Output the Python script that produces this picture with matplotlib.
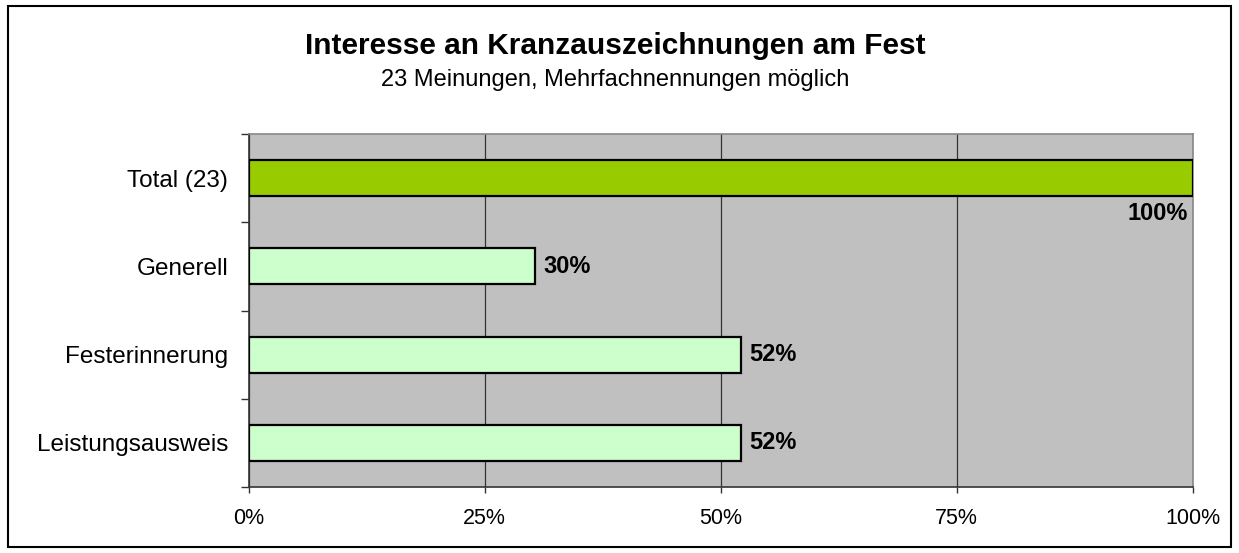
import matplotlib
matplotlib.use("Agg")
import matplotlib.pyplot as plt
from matplotlib.patches import Rectangle
from matplotlib.ticker import FixedLocator, NullFormatter

plt.rcParams['font.family'] = ['Liberation Sans', 'DejaVu Sans']

categories = ["Total (23)", "Generell", "Festerinnerung", "Leistungsausweis"]
values = [100, 30.4, 52.2, 52.2]
bar_colors = ["#99CC00", "#CCFFCC", "#CCFFCC", "#CCFFCC"]
xticks = [0, 25, 50, 75, 100]
xtick_labels = ["0%", "25%", "50%", "75%", "100%"]
title = "Interesse an Kranzauszeichnungen am Fest"
subtitle = "23 Meinungen, Mehrfachnennungen möglich"

W, H = 1239, 553
fig = plt.figure(figsize=(W / 100, H / 100), dpi=100)
fig.patch.set_facecolor("white")

# outer chart border
fig.patches.append(Rectangle((8 / W, 6 / H), (1231 - 8) / W, (547 - 6) / H,
                             transform=fig.transFigure, fill=False,
                             edgecolor="black", linewidth=1.5))

ax = fig.add_axes([248.5 / W, (H - 487) / H, (1192.5 - 248.5) / W, (487 - 134) / H])
ax.set_facecolor("#C0C0C0")

ypos = list(range(len(categories)))
ax.barh(ypos, values, height=0.41, color=bar_colors, edgecolor="black", linewidth=1.6, zorder=3)

ax.set_xlim(0, 100)
ax.set_ylim(len(categories) - 0.5, -0.5)

ax.set_xticks(xticks)
ax.set_xticklabels(xtick_labels, fontsize=15.5)
ax.tick_params(axis="x", direction="out", length=4.5, width=1, color="#333333", pad=10.5)

ax.yaxis.set_major_locator(FixedLocator([i - 0.5 for i in range(len(categories) + 1)]))
ax.yaxis.set_major_formatter(NullFormatter())
ax.yaxis.set_minor_locator(FixedLocator(ypos))
ax.set_yticklabels(categories, minor=True, fontsize=17.5)
ax.tick_params(axis="y", which="major", direction="out", length=6, width=1, color="#333333")
ax.tick_params(axis="y", which="minor", length=0, pad=14.5)

ax.grid(axis="x", color="#333333", linewidth=0.9, zorder=1)
ax.set_axisbelow(True)

for side in ["left", "bottom"]:
    ax.spines[side].set_color("#333333")
    ax.spines[side].set_linewidth(1.2)
for side in ["top", "right"]:
    ax.spines[side].set_color("#888888")
    ax.spines[side].set_linewidth(1.2)

for i, v in enumerate(values):
    if v >= 100:
        ax.annotate(f"{v:.0f}%", xy=(v, i + 0.205), xytext=(-3, -4), textcoords="offset points",
                    ha="right", va="top", fontsize=17, fontweight="bold", zorder=4)
    else:
        ax.annotate(f"{v:.0f}%", xy=(v, i), xytext=(5.5, 0), textcoords="offset points",
                    ha="left", va="center", fontsize=17, fontweight="bold", zorder=4)

fig.text(0.4968, (H - 46) / H, title, ha="center", va="center", fontsize=21.5, fontweight="bold")
fig.text(0.4968, (H - 80) / H, subtitle, ha="center", va="center", fontsize=17)

fig.savefig("out.png", dpi=100, facecolor="white")
